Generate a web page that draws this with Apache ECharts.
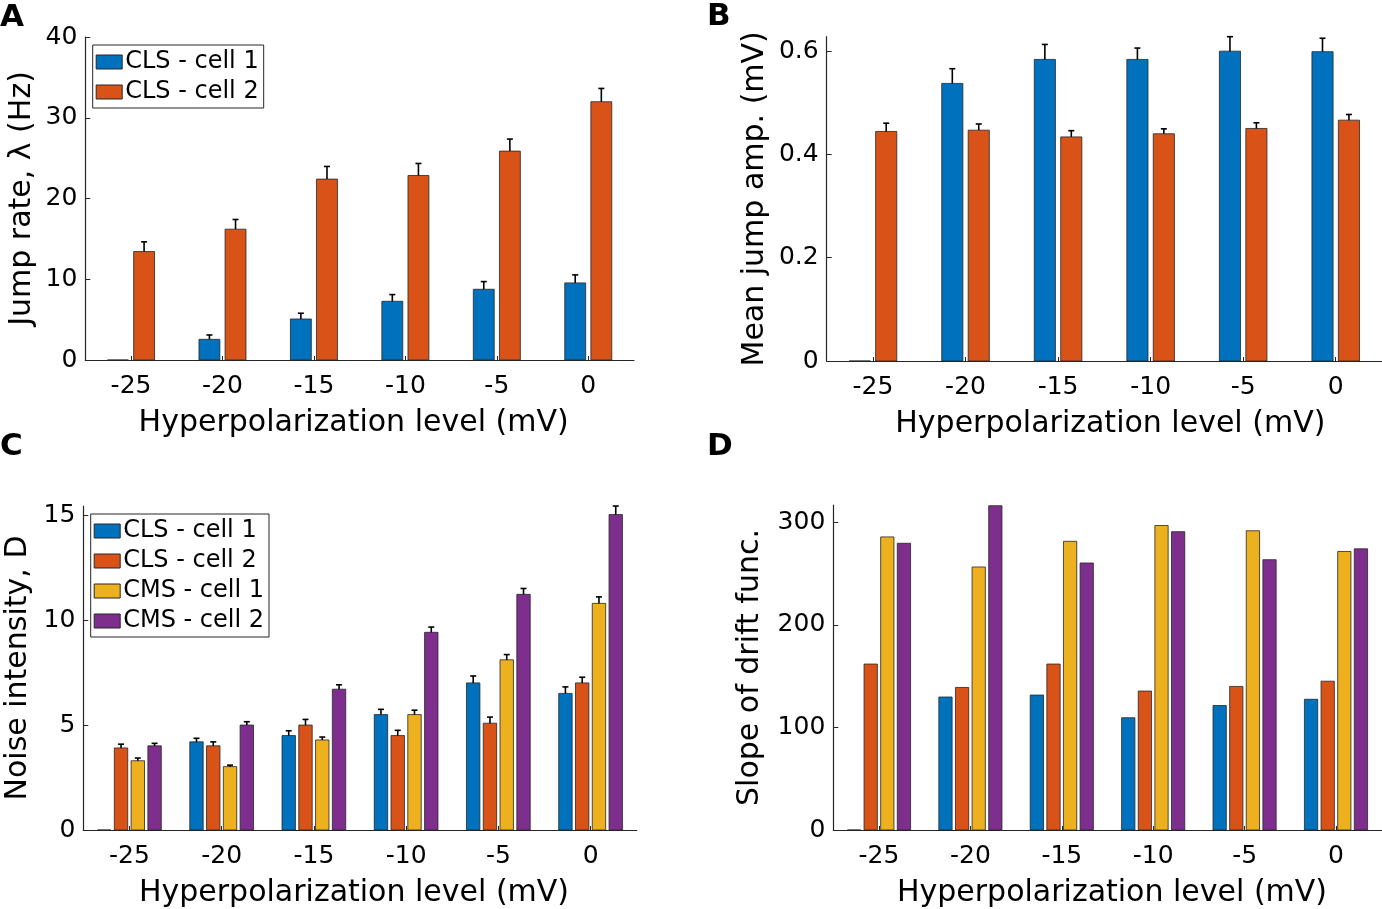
<!DOCTYPE html>
<html>
<head>
<meta charset="utf-8">
<script src="https://cdn.jsdelivr.net/npm/echarts@6/dist/echarts.min.js"></script>
<style>
html,body{margin:0;padding:0;background:#fff;}
#chart{width:1382px;height:909px;}
</style>
</head>
<body>
<div id="chart"></div>
<script>
// ---------- data ----------
const categories = [-25, -20, -15, -10, -5, 0];

const xTickValues = [-25, -20, -15, -10, -5, 0];
const yTicksA = [0, 10, 20, 30, 40];
const yTicksB = [0, 0.2, 0.4, 0.6];
const yTicksC = [0, 5, 10, 15];
const yTicksD = [0, 100, 200, 300];

const seriesNames = ['CLS - cell 1', 'CLS - cell 2', 'CMS - cell 1', 'CMS - cell 2'];

// Panel A: jump rate (Hz)
const jumpRateCell1 = [0, 2.56, 5.08, 7.27, 8.76, 9.55];
const jumpRateCell1Err = [null, 0.54, 0.71, 0.83, 0.95, 0.99];
const jumpRateCell2 = [13.43, 16.2, 22.4, 22.85, 25.87, 31.98];
const jumpRateCell2Err = [1.2, 1.2, 1.57, 1.49, 1.49, 1.65];

// Panel B: mean jump amplitude (mV)
const ampCell1 = [0, 0.5375, 0.584, 0.584, 0.600, 0.599];
const ampCell1Err = [null, 0.0285, 0.029, 0.022, 0.028, 0.026];
const ampCell2 = [0.4445, 0.447, 0.434, 0.440, 0.4503, 0.4664];
const ampCell2Err = [0.016, 0.012, 0.012, 0.0096, 0.011, 0.011];

// Panel C: noise intensity D
const noiseCLS1 = [0, 4.20, 4.50, 5.50, 7.01, 6.51];
const noiseCLS1Err = [null, 0.17, 0.23, 0.25, 0.33, 0.31];
const noiseCLS2 = [3.91, 4.01, 5.00, 4.50, 5.09, 7.01];
const noiseCLS2Err = [0.18, 0.19, 0.27, 0.25, 0.29, 0.27];
const noiseCMS1 = [3.30, 3.02, 4.29, 5.50, 8.11, 10.80];
const noiseCMS1Err = [0.13, 0.07, 0.14, 0.21, 0.25, 0.31];
const noiseCMS2 = [4.01, 5.00, 6.71, 9.42, 11.23, 15.03];
const noiseCMS2Err = [0.12, 0.16, 0.21, 0.25, 0.28, 0.41];

// Panel D: slope of drift function
const slopeCLS1 = [0, 129.6, 131.5, 109.4, 121.3, 127.4];
const slopeCLS2 = [161.7, 138.9, 161.7, 135.4, 139.9, 145.0];
const slopeCMS1 = [285.6, 256.3, 281.3, 296.7, 291.6, 271.4];
const slopeCMS2 = [279.4, 316.0, 260.2, 290.7, 263.4, 274.0];

// ---------- styling ----------
const colors = ['#0072BD', '#D95319', '#EDB120', '#7E2F8E'];
const FONT = '"DejaVu Sans", "Noto Sans", sans-serif';
const AXC = '#262626';

function rows(vals, errs) {
  return categories.map((c, i) => [c, vals[i], errs ? (errs[i] == null ? NaN : errs[i]) : NaN]);
}

function barRender(offset, width, color) {
  return function (params, api) {
    const x = api.value(0), v = api.value(1), e = api.value(2);
    const p0 = api.coord([x + offset - width / 2, v]);
    const p1 = api.coord([x + offset + width / 2, 0]);
    const children = [{
      type: 'rect',
      shape: { x: p0[0], y: p0[1], width: p1[0] - p0[0], height: p1[1] - p0[1] },
      style: { fill: color, stroke: '#262626', lineWidth: 0.8 }
    }];
    if (e != null && !isNaN(e) && e > 0) {
      const c = api.coord([x + offset, v]);
      const t = api.coord([x + offset, v + e]);
      children.push({ type: 'line', shape: { x1: c[0], y1: c[1], x2: t[0], y2: t[1] }, style: { stroke: '#000', lineWidth: 1.6 } });
      children.push({ type: 'line', shape: { x1: t[0] - 3, y1: t[1], x2: t[0] + 3, y2: t[1] }, style: { stroke: '#000', lineWidth: 1.6 } });
    }
    return { type: 'group', children: children };
  };
}

const two = { off: [-0.714, 0.714], w: 1.143 };
const four = { off: [-1.364, -0.4545, 0.4545, 1.364], w: 0.727 };

function mkSeries(gi, idx, layout, vals, errs) {
  return {
    type: 'custom',
    name: seriesNames[idx],
    coordinateSystem: 'cartesian2d',
    xAxisIndex: gi, yAxisIndex: gi,
    dimensions: ['x', 'y', 'err'],
    encode: { x: 0, y: 1 },
    itemStyle: { color: colors[idx] },
    renderItem: barRender(layout.off[idx], layout.w, colors[idx]),
    data: rows(vals, errs),
    z: 2
  };
}

const grids = [
  { left: 85.3, top: 37, width: 548.7, height: 323 },
  { left: 826.7, top: 36.7, width: 555.3, height: 324.3 },
  { left: 83.3, top: 506, width: 553.4, height: 327.3 },
  { left: 833.3, top: 505, width: 548.4, height: 329 }
];

function xAxis(gi, namePad) {
  return {
    type: 'value', gridIndex: gi, min: -27.5, max: 2.5,
    axisLine: { show: true, onZero: false, lineStyle: { color: AXC, width: 1.2 } },
    axisTick: { show: true, inside: true, length: 4, customValues: xTickValues, lineStyle: { color: AXC } },
    axisLabel: { customValues: xTickValues, fontSize: 25, color: '#000', margin: 14, fontFamily: FONT },
    splitLine: { show: false },
    name: 'Hyperpolarization level (mV)', nameLocation: 'middle', nameGap: 48,
    nameTextStyle: { fontSize: 30, color: '#000', fontFamily: FONT, padding: namePad }
  };
}

function yAxis(gi, max, ticks, name, gap) {
  return {
    type: 'value', gridIndex: gi, min: 0, max: max,
    axisLine: { show: true, onZero: false, lineStyle: { color: AXC, width: 1.2 } },
    axisTick: { show: true, inside: true, length: 5, customValues: ticks, lineStyle: { color: AXC } },
    axisLabel: { customValues: ticks, fontSize: 25, color: '#000', margin: 8, fontFamily: FONT },
    splitLine: { show: false },
    name: name, nameLocation: 'middle', nameGap: gap,
    nameTextStyle: { fontSize: 30, color: '#000', fontFamily: FONT }
  };
}

function legendItems(n) {
  return seriesNames.slice(0, n).map((s, i) => ({
    name: s, icon: 'rect',
    itemStyle: { color: colors[i], borderColor: '#262626', borderWidth: 1 }
  }));
}

const legendCommon = {
  orient: 'vertical', itemWidth: 26, itemHeight: 14, itemGap: 6,
  borderColor: AXC, borderWidth: 1, backgroundColor: '#fff',
  padding: [5, 5, 4, 3], selectedMode: false,
  textStyle: { fontSize: 24, color: '#000', fontFamily: FONT, padding: [0, 0, 0, -2] }
};

const option = {
  animation: false,
  backgroundColor: '#fff',
  grid: grids,
  xAxis: [xAxis(0, [0, 12, 0, 0]), xAxis(1, [0, 0, 0, 12]), xAxis(2, [0, 12, 0, 0]), xAxis(3, [0, 0, 0, 9])],
  yAxis: [
    yAxis(0, 40, yTicksA, 'Jump rate, \u03bb (Hz)', 48),
    yAxis(1, 0.628, yTicksB, 'Mean jump amp. (mV)', 56),
    yAxis(2, 15.44, yTicksC, 'Noise intensity, D', 50),
    yAxis(3, 316.7, yTicksD, 'Slope of drift func.', 68)
  ],
  legend: [
    Object.assign({}, legendCommon, { left: 92.7, top: 45, data: legendItems(2) }),
    Object.assign({}, legendCommon, { left: 90.7, top: 514, data: legendItems(4) })
  ],
  graphic: [
    { type: 'text', left: 0, top: 2, style: { text: 'A', font: 'bold 31px ' + FONT, fill: '#000' } },
    { type: 'text', left: 707, top: 1, style: { text: 'B', font: 'bold 31px ' + FONT, fill: '#000' } },
    { type: 'text', left: 0, top: 431, style: { text: 'C', font: 'bold 31px ' + FONT, fill: '#000' } },
    { type: 'text', left: 707, top: 431, style: { text: 'D', font: 'bold 31px ' + FONT, fill: '#000' } }
  ],
  series: [
    mkSeries(0, 0, two, jumpRateCell1, jumpRateCell1Err),
    mkSeries(0, 1, two, jumpRateCell2, jumpRateCell2Err),
    mkSeries(1, 0, two, ampCell1, ampCell1Err),
    mkSeries(1, 1, two, ampCell2, ampCell2Err),
    mkSeries(2, 0, four, noiseCLS1, noiseCLS1Err),
    mkSeries(2, 1, four, noiseCLS2, noiseCLS2Err),
    mkSeries(2, 2, four, noiseCMS1, noiseCMS1Err),
    mkSeries(2, 3, four, noiseCMS2, noiseCMS2Err),
    mkSeries(3, 0, four, slopeCLS1, null),
    mkSeries(3, 1, four, slopeCLS2, null),
    mkSeries(3, 2, four, slopeCMS1, null),
    mkSeries(3, 3, four, slopeCMS2, null)
  ]
};

const chart = echarts.init(document.getElementById('chart'), null, { renderer: 'canvas' });
chart.setOption(option);
</script>
</body>
</html>
